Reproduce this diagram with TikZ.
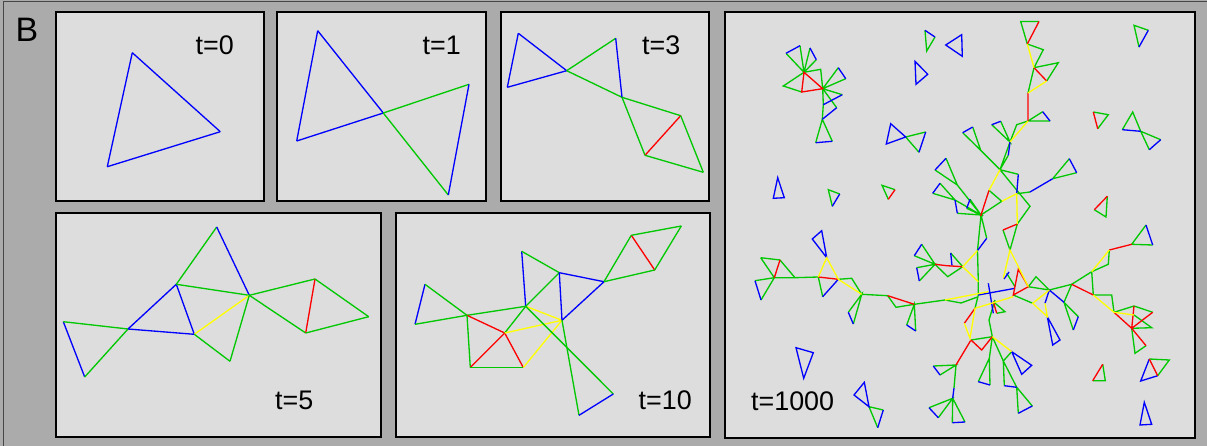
\documentclass[tikz,border=0pt]{standalone}
\usepackage{fontspec}
\setmainfont{Liberation Sans}
\definecolor{outergray}{RGB}{171,171,171}
\definecolor{panelgray}{RGB}{221,221,221}
\definecolor{eblue}{RGB}{0,0,255}
\definecolor{egreen}{RGB}{0,200,0}
\definecolor{ered}{RGB}{255,0,0}
\definecolor{eyellow}{RGB}{255,255,0}
\begin{document}
\begin{tikzpicture}[x=0.02cm,y=-0.02cm,line width=0.75pt,
  panel/.style={draw=black,fill=panelgray,line width=0.8pt},
  bl/.style={draw=eblue}, gr/.style={draw=egreen},
  rd/.style={draw=ered}, yl/.style={draw=eyellow},
  tlabel/.style={anchor=base west,inner sep=0pt,font=\fontsize{15.3}{18}\selectfont}]
  \useasboundingbox (0,0) rectangle (1207,446);
  \fill[outergray] (0,0) rectangle (1207,446);
  \draw[gray!55!black,line width=0.9pt] (3.3,446) -- (3.3,1.7) -- (1207,1.7);

  % panels
  \draw[panel] (56,12) rectangle (264,201);
  \draw[panel] (277,12) rectangle (486,201);
  \draw[panel] (501,12) rectangle (709,201);
  \draw[panel] (56,213) rectangle (381,437);
  \draw[panel] (396,213) rectangle (710,437);
  \draw[panel] (725,12) rectangle (1195,438);

  % labels
  \node[anchor=base west,inner sep=0pt,font=\fontsize{19.3}{22}\selectfont] (lbB) at (15,41.7) {B};
  \node[tlabel] (lb0) at (195,55) {t=0};
  \node[tlabel] (lb1) at (422,55) {t=1};
  \node[tlabel] (lb3) at (641.5,55) {t=3};
  \node[tlabel] (lb5) at (274.5,409.3) {t=5};
  \node[tlabel] (lb10) at (638,409.3) {t=10};
  \node[tlabel] (lb1000) at (750.5,410) {t=1000};

  % t=0
  \coordinate (za) at (132.3,52.7);
  \coordinate (zb) at (220.3,131.7);
  \coordinate (zc) at (107.3,166.7);
  \path (za) edge[bl] (zb) (zb) edge[bl] (zc) (zc) edge[bl] (za);

  % t=1
  \coordinate (oa) at (317.7,30.7);
  \coordinate (ob) at (296.7,141);
  \coordinate (oc) at (383.3,113);
  \coordinate (od) at (469,84.3);
  \coordinate (oe) at (448.3,195);
  \path (oa) edge[bl] (ob) (oa) edge[bl] (oc) (ob) edge[bl] (oc)
        (oc) edge[gr] (od) (oc) edge[gr] (oe) (od) edge[bl] (oe);

  % t=3
  \coordinate (ha) at (518.3,33.3);
  \coordinate (hb) at (507.3,87.3);
  \coordinate (hc) at (566.7,70.7);
  \coordinate (hd) at (615.7,38.3);
  \coordinate (he) at (622,97.3);
  \coordinate (hf) at (680.7,115.7);
  \coordinate (hg) at (645,155.3);
  \coordinate (hh) at (703.3,172.3);
  \path (ha) edge[bl] (hb) (ha) edge[bl] (hc) (hb) edge[bl] (hc)
        (hc) edge[gr] (hd) (hc) edge[gr] (he) (hd) edge[bl] (he)
        (he) edge[gr] (hf) (he) edge[gr] (hg) (hf) edge[rd] (hg)
        (hf) edge[gr] (hh) (hg) edge[gr] (hh);

  % t=5
  \coordinate (fa) at (63.3,321.7);
  \coordinate (fb) at (84.7,377);
  \coordinate (fq) at (128,329);
  \coordinate (fr) at (176.3,284.3);
  \coordinate (fs) at (194.3,334.3);
  \coordinate (ft) at (216.7,227);
  \coordinate (fh) at (249.3,295.3);
  \coordinate (fl) at (230,361.3);
  \coordinate (fu) at (315,279);
  \coordinate (fv) at (305.7,333);
  \coordinate (fw) at (368.7,316.7);
  \path (fa) edge[bl] (fb) (fa) edge[gr] (fq) (fb) edge[gr] (fq)
        (fq) edge[bl] (fr) (fq) edge[bl] (fs) (fr) edge[bl] (fs)
        (fr) edge[gr] (ft) (ft) edge[bl] (fh) (fr) edge[gr] (fh)
        (fs) edge[yl] (fh) (fs) edge[gr] (fl) (fl) edge[gr] (fh)
        (fh) edge[gr] (fu) (fh) edge[gr] (fv) (fu) edge[rd] (fv)
        (fu) edge[gr] (fw) (fv) edge[gr] (fw);

  % t=10
  \coordinate (ka) at (425,284.3);
  \coordinate (kb) at (415,324.3);
  \coordinate (km) at (467,315.3);
  \coordinate (kn) at (525.7,306.3);
  \coordinate (ko) at (521.7,251.3);
  \coordinate (kp) at (559.3,272.7);
  \coordinate (kf) at (604,281.7);
  \coordinate (kg) at (562,320.3);
  \coordinate (kx) at (504.7,333);
  \coordinate (ky) at (470.3,367.5);
  \coordinate (kz) at (523.3,367.5);
  \coordinate (kj) at (631.3,235.3);
  \coordinate (kk) at (681.3,226);
  \coordinate (kl) at (654.7,270);
  \coordinate (ks) at (613.3,394);
  \coordinate (kt) at (579,415.3);
  \path (ka) edge[bl] (kb) (ka) edge[gr] (km) (kb) edge[gr] (km)
        (km) edge[gr] (kn) (km) edge[rd] (kx) (km) edge[gr] (ky)
        (kx) edge[rd] (ky) (kx) edge[rd] (kz) (ky) edge[gr] (kz)
        (kx) edge[gr] (kn) (kx) edge[yl] (kg) (kz) edge[yl] (kg)
        (kn) edge[yl] (kg) (kn) edge[bl] (ko) (ko) edge[gr] (kp)
        (kn) edge[gr] (kp) (kp) edge[bl] (kg) (kp) edge[bl] (kf)
        (kg) edge[bl] (kf) (kf) edge[gr] (kj) (kf) edge[gr] (kl)
        (kj) edge[rd] (kl) (kj) edge[gr] (kk) (kk) edge[gr] (kl)
        (kn) edge[gr] (ks) (kg) edge[gr] (kt) (ks) edge[bl] (kt);

  % t=1000
  \draw[gr] (804,72.3)--(786,53.3) (804,72.3)--(800,45.7) (804,72.3)--(810,48)
    (804,72.3)--(816.3,59.7) (804,72.3)--(783.3,86)--(801.7,92)
    (804,72.3)--(820.7,69.3)--(822.7,88.7) (822.7,88.7)--(838.3,67.7)
    (822.7,88.7)--(845.7,78.7) (822.7,88.7)--(842.3,94.7)
    (822.7,88.7)--(823.3,104.7)--(822.3,119.3) (822.7,88.7)--(836.7,107.7)
    (815.7,142.7)--(822.3,119.3)--(832.3,141.3)
    (925,30.3)--(926.7,51)--(935,37)
    (905.7,137)--(925.7,132) (905.7,137)--(919,152.3)
    (839.7,194)--(828.3,189.7)--(832.3,206.3)
    (895,189.7)--(882,185.3)--(888.3,199.3)
    (1148.3,30.3)--(1134,25.3)--(1139,47)
    (1093.3,112)--(1108.3,114.7)--(1097.7,128.7)
    (1122.3,129.7)--(1132.7,112)--(1140.7,131.3)
    (1160.7,139.7)--(1140.7,131.3)--(1149.3,149.7)
    (1107.3,196.3)--(1106,217)--(1094.3,209.7)
    (1039,21.5)--(1020.7,21.5)--(1027.3,44)--(1043.3,49.7)--(1034,67.7)
    (1034,67.7)--(1058.3,62.7)--(1046.7,81) (1034,67.7)--(1028,93)
    (1042.7,111.7)--(1028,121)--(1050,121)
    (1028,121)--(1016.7,124.7)--(1010,142)
    (991.7,124.7)--(1010,142)--(1000.7,121.3)
    (1008.3,155.3)--(1000,169.7)--(1010,142)
    (972.7,127)--(980.7,150.3)--(962.7,132.7) (980.7,150.3)--(1000,169.7)
    (1000,169.7)--(1018.3,174.3) (1000,169.7)--(1030,206.3)--(1017.3,224)
    (1016.7,193.7)--(1030,192) (1052.7,178.7)--(1069.3,158.7)
    (1052.7,178.7)--(1076.7,172.7)
    (989,190.3)--(1001.7,201.3)--(981,215)
    (1003,230)--(1010,250)--(1017.3,224)
    (946,158.3)--(957.3,185)--(935,170) (957.3,185)--(981,215)
    (940,183.3)--(955,200)--(932.7,193.3) (955,200)--(981,215)--(957.3,213.3)
    (970,199.3)--(981,215)--(966.7,208.3)
    (981,215)--(986.7,238.3) (981,215)--(977.5,250.5)--(978.3,281.7)--(978.3,295)
    (935,264.3)--(947.7,276.7)--(962.7,266.7)--(950.7,253)
    (914.3,255.7)--(935,264.3)--(921.7,244.3)
    (916.7,267.7)--(935,264.3)--(919.3,281)
    (760.7,257.7)--(780,260)--(795,277.7)--(774.3,277.7)--(760.7,257.7)
    (755,280.7)--(774.3,277.7)--(761,300)
    (795,277.7)--(818.3,277)--(822.7,296.7)
    (838.3,279.3)--(851.7,278.3)--(861.7,294.3)
    (848.3,312.3)--(861.7,294.3)--(853.3,324)
    (861.7,294.3)--(887.7,295.7)--(896,307.3)--(914.3,304.3)
    (906.7,325)--(914.3,304.3)--(915.7,331)
    (914.3,304.3)--(945,300)--(961,303)--(978.3,296.7)
    (978.3,295)--(975,308.3)
    (993.3,301.7)--(1005,311.7)--(996.7,313.3)
    (995,300)--(989,320)--(992.3,336.7)
    (1006.7,273.3)--(1015,286.7) (1013.3,295)--(1032.7,303.3)
    (1028.3,286.7)--(1036,276.7)--(1049.3,290)--(1028.3,286.7)
    (1071.7,284.3)--(1064,302.3)--(1078.3,316.7) (1064,302.3)--(1073.3,330)
    (1049.3,290)--(1071.7,284.3)--(1091.7,271.7)--(1093.3,295)
    (1091.7,271.7)--(1108.3,264.3)--(1109.3,250)
    (1146,225)--(1131.7,244.3)--(1152.7,245)
    (1093.3,295)--(1111.7,295)--(1114,312.3)
    (1114,312.3)--(1134,306)--(1152.7,312.3)
    (1131.7,328.3)--(1151.7,327.7)--(1134,315)
    (1131.7,328.3)--(1135,353.3)--(1146,345.7)
    (971,340)--(992.3,336.7)
    (933.3,366)--(956,365)--(940,375) (956,365)--(954,388)
    (929,407.7)--(952.7,398.3)--(938.3,417.7)
    (952.3,422.7)--(952.7,398.3)--(965,422)
    (992.3,336.7)--(989.3,358.3)--(990,385) (978.3,381.7)--(989.3,358.3)
    (992.3,336.7)--(1003.3,361)--(1004.3,385.7) (1003.3,361)--(1016.7,387.3)
    (1016.7,387.3)--(1018.3,413.3) (1016.7,387.3)--(1032.3,406)
    (1003.3,361)--(1011.7,351.7)
    (883.3,410)--(869,406.7)--(877.7,427.7)
    (1102.7,364.3)--(1105.3,380.7)--(1092.7,380.7)
    (1149.3,359)--(1169.3,360)--(1157.7,375.7);
  \draw[bl] (786,53.3)--(800,45.7) (810,48)--(816.3,59.7)
    (838.3,67.7)--(845.7,78.7) (842.3,94.7)--(823.3,104.7)
    (836.7,107.7)--(822.3,119.3) (815.7,142.7)--(832.3,141.3)
    (925,30.3)--(935,37)
    (945.7,45)--(961.7,34.7)--(962.3,56.3)--cycle
    (915,61.3)--(927.7,74.3)--(916,84.3)--cycle
    (890.7,123.7)--(886.3,144)--(905.7,137)--cycle
    (925.7,132)--(919,152.3)
    (777.7,177.7)--(773.3,198.3)--(784.3,197.7)--cycle
    (839.7,194)--(832.3,206.3)
    (1148.3,30.3)--(1139,47) (1122.3,129.7)--(1140.7,131.3)
    (1160.7,139.7)--(1149.3,149.7)
    (1042.7,111.7)--(1050,121) (991.7,124.7)--(1000.7,121.3)
    (1010,142)--(1008.3,155.3) (962.7,132.7)--(972.7,127)
    (1018.3,174.3)--(1016.7,193.7) (1030,192)--(1052.7,178.7)
    (1069.3,158.7)--(1076.7,172.7)
    (935,170)--(946,158.3) (932.7,193.3)--(940,183.3)
    (955,200)--(957.3,213.3) (970,199.3)--(966.7,208.3)
    (986.7,238.3)--(977.5,250.5) (950.7,253)--(952,265.7)
    (914.3,255.7)--(921.7,244.3) (916.7,267.7)--(919.3,281)
    (755,280.7)--(761,300)
    (812.3,239)--(821.7,230.7)--(826.7,257.7)--cycle
    (822.7,296.7)--(838.3,279.3) (848.3,312.3)--(853.3,324)
    (906.7,325)--(915.7,331)
    (978.3,295)--(1015,288.3) (988.3,283.3)--(993.3,313.3)
    (1004,279)--(1009,272)
    (1049.3,290)--(1064,302.3) (1049.3,290)--(1045,303.3)
    (1047.3,316.7)--(1060,340)--(1052.7,345)--cycle
    (1078.3,316.7)--(1073.3,330) (1146,225)--(1152.7,245)
    (933.3,366)--(940,375) (954,388)--(952.7,398.3)
    (929,407.7)--(938.3,417.7) (952.3,422.7)--(965,422)
    (978.3,381.7)--(990,385) (1004.3,385.7)--(1016.7,387.3)
    (1018.3,413.3)--(1032.3,406)
    (1011.7,351.7)--(1031.7,365.3)--(1021.7,374.3)--cycle
    (796,347.7)--(813.3,352.7)--(803.7,378.3)--cycle
    (854,395)--(864.3,382.3)--(869,406.7)--cycle
    (883.3,410)--(877.7,427.7)
    (1149.3,359)--(1140.7,381)--(1157.7,375.7)
    (1140,425)--(1144.3,402.3)--(1151.7,424.3)--cycle;
  \draw[rd] (804,72.3)--(801.7,92)--(822.7,88.7)--cycle
    (895,189.7)--(888.3,199.3) (1097.7,128.7)--(1093.3,112)
    (1094.3,209.7)--(1107.3,196.3)
    (1039,21.5)--(1027.3,44) (1034,67.7)--(1046.7,81) (1028,93)--(1028,121)
    (989,190.3)--(980.7,216) (1003,230)--(1017.3,224)
    (935,264.3)--(946.7,265.7)--(962.7,266.7)
    (780,260)--(774.3,277.7) (818.3,277)--(838.3,279.3)
    (887.7,295.7)--(914.3,304.3)
    (975,308.3)--(964.3,323.3) (993.3,301.7)--(996.7,313.3)
    (1018.3,269.3)--(1028.3,286.7)--(1013.3,295)--cycle
    (1071.7,284.3)--(1093.3,295) (1109.3,250)--(1131.7,244.3)
    (1114,312.3)--(1131.7,328.3)--(1152.7,312.3) (1134,306)--(1131.7,328.3)
    (1131.7,328.3)--(1146,345.7)
    (971,340)--(981.7,350)--(992.3,336.7) (971,340)--(956,365)
    (1092.7,380.7)--(1102.7,364.3) (1149.3,359)--(1157.7,375.7);
  \draw[yl] (1027.3,44)--(1034,67.7) (1028,93)--(1046.7,81)
    (1028,121)--(1010,142)
    (1000,169.7)--(989,190.3) (1001.7,201.3)--(1016.7,193.7)--(1017.3,224)
    (977.5,250.5)--(962.7,266.7)--(978.3,281.7)
    (818.3,277)--(826.7,257.7)--(838.3,279.3)--(861.7,294.3)
    (945,300)--(988.3,291.7)
    (964.3,323.3)--(970,338.3)--(975,308.3)--(1013.3,296.7)
    (1003.3,278.3)--(1010,250)--(1028.3,286.7)
    (1049.3,290)--(1032.7,303.3)--(1047.3,316.7)--(1045,303.3)
    (1091.7,271.7)--(1109.3,250) (1093.3,295)--(1114,312.3)--(1134,315)
    (992.3,336.7)--(1011.7,351.7);
\end{tikzpicture}
\end{document}
